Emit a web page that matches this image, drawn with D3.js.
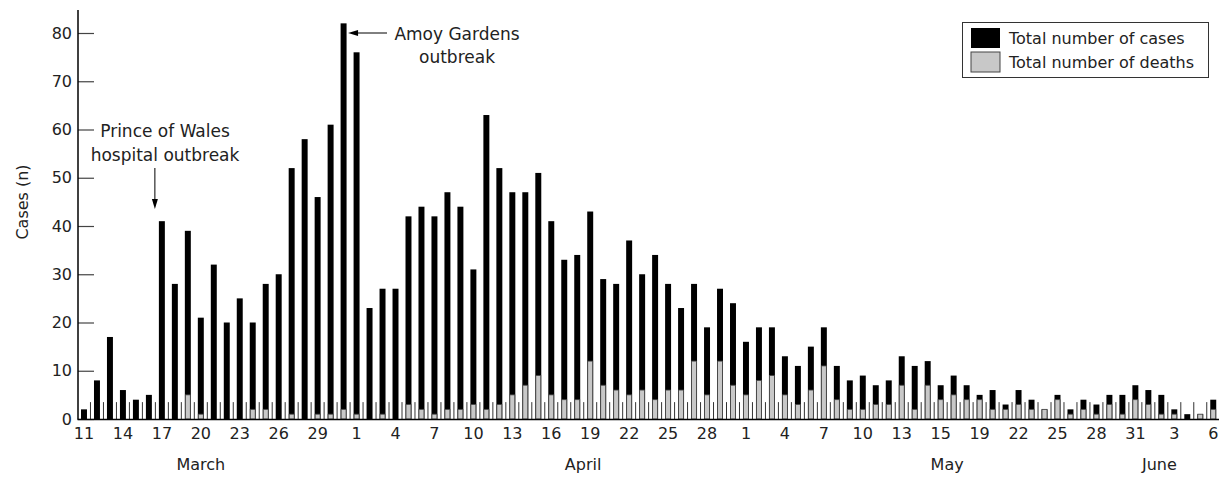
<!DOCTYPE html>
<html>
<head>
<meta charset="utf-8">
<script src="https://cdn.jsdelivr.net/npm/d3@7"></script>
<style>
  html, body { margin: 0; padding: 0; background: #fff; }
  svg { display: block; font-family: "DejaVu Sans", sans-serif; }
</style>
</head>
<body>
<svg id="chart" width="1222" height="477"></svg>
<script>
// ---- data ----
const dates = [
  "Mar 11","Mar 12","Mar 13","Mar 14","Mar 15","Mar 16","Mar 17","Mar 18","Mar 19","Mar 20","Mar 21",
  "Mar 22","Mar 23","Mar 24","Mar 25","Mar 26","Mar 27","Mar 28","Mar 29","Mar 30","Mar 31",
  "Apr 1","Apr 2","Apr 3","Apr 4","Apr 5","Apr 6","Apr 7","Apr 8","Apr 9","Apr 10",
  "Apr 11","Apr 12","Apr 13","Apr 14","Apr 15","Apr 16","Apr 17","Apr 18","Apr 19","Apr 20",
  "Apr 21","Apr 22","Apr 23","Apr 24","Apr 25","Apr 26","Apr 27","Apr 28","Apr 29","Apr 30",
  "May 1","May 2","May 3","May 4","May 5","May 6","May 7","May 8","May 9","May 10",
  "May 11","May 12","May 13","May 14","May 15","May 16","May 17","May 18","May 19","May 20",
  "May 21","May 22","May 23","May 24","May 25","May 26","May 27","May 28","May 29","May 30","May 31",
  "Jun 1","Jun 2","Jun 3","Jun 4","Jun 5","Jun 6"
];
const cases = [
  2,8,17,6,4,5,41,28,39,21,32,20,25,20,28,30,52,58,46,61,82,
  76,23,27,27,42,44,42,47,44,31,63,52,47,47,51,41,33,34,43,29,28,37,30,34,28,23,28,19,27,24,
  16,19,19,13,11,15,19,11,8,9,7,8,13,11,12,7,9,7,5,6,3,6,4,2,5,2,4,3,5,5,7,
  6,5,2,1,1,4
];
const deaths = [
  0,0,0,0,0,0,0,0,5,1,0,0,0,2,2,0,1,0,1,1,2,
  1,0,1,0,3,2,1,2,2,3,2,3,5,7,9,5,4,4,12,7,6,5,6,4,6,6,12,5,12,7,
  5,8,9,5,3,6,11,4,2,2,3,3,7,2,7,4,5,4,4,2,2,3,2,2,4,1,2,1,3,1,4,
  3,1,1,0,1,2
];
const xTickDates  = ["Mar 11","Mar 14","Mar 17","Mar 20","Mar 23","Mar 26","Mar 29","Apr 1","Apr 4","Apr 7","Apr 10","Apr 13","Apr 16","Apr 19","Apr 22","Apr 25","Apr 28","May 1","May 4","May 7","May 10","May 13","May 16","May 19","May 22","May 25","May 28","May 31","Jun 3","Jun 6"];
const xTickLabels = ["11","14","17","20","23","26","29","1","4","7","10","13","16","19","22","25","28","1","4","7","10","13","15","19","22","25","28","31","3","6"];
const yTicks = [0,10,20,30,40,50,60,70,80];
const monthNames = ["March","April","May","June"];
const monthAnchorDates = ["Mar 20","Apr 18","May 16","Jun 2"];
const seriesNames = ["Total number of cases","Total number of deaths"];
const seriesColors = ["#000000","#c8c8c8"];

// ---- layout ----
const FONT = 16;
const ANN_FONT = 17;
const FAMILY = "'DejaVu Sans', sans-serif";
const monthShift = [0, 0.45, 0.5, -0.15]; // in day steps
const svg = d3.select("#chart");
const x0 = 77.5, step = 12.98;
const x = d3.scaleBand().domain(dates).range([x0, x0 + step*dates.length])
  .paddingInner(0.54).paddingOuter(0.27);
const y = d3.scaleLinear().domain([0, 80]).range([419, 33]);
const cx = d => x(d) + x.bandwidth()/2;

// y axis
const yAxis = svg.append("g").attr("transform", `translate(78,0)`)
  .call(d3.axisLeft(y).tickValues(yTicks).tickSize(-16).tickPadding(6).tickSizeOuter(0));
yAxis.select(".domain").remove();
yAxis.selectAll(".tick line").attr("stroke", "#444").attr("stroke-width", 1.2);
yAxis.selectAll(".tick text").attr("font-size", FONT).attr("fill", "#222").attr("font-family", FAMILY);
svg.append("line").attr("x1", 78).attr("x2", 78).attr("y1", 10).attr("y2", 419.5)
  .attr("stroke", "#000").attr("stroke-width", 1.5);

// day separator ticks
const sepTicks = d3.range(1, dates.length);
svg.append("g").selectAll("line").data(sepTicks).join("line")
  .attr("x1", i => x0 + step*i).attr("x2", i => x0 + step*i)
  .attr("y1", y(0)).attr("y2", y(3.5))
  .attr("stroke", "#333").attr("stroke-width", 1);

// bars
const data = dates.map((d, i) => ({date: d, c: cases[i], dth: deaths[i]}));
svg.append("g").selectAll("rect").data(data).join("rect")
  .attr("x", d => x(d.date)).attr("width", x.bandwidth())
  .attr("y", d => y(d.c)).attr("height", d => y(0) - y(d.c))
  .attr("fill", seriesColors[0]);
svg.append("g").selectAll("rect").data(data.filter(d => d.dth > 0)).join("rect")
  .attr("x", d => x(d.date) + 0.5).attr("width", x.bandwidth() - 1)
  .attr("y", d => y(d.dth)).attr("height", d => y(0) - y(d.dth))
  .attr("fill", seriesColors[1]).attr("stroke", "#444").attr("stroke-width", 0.8);

// x axis
const xAxis = svg.append("g").attr("transform", `translate(0,419)`)
  .call(d3.axisBottom(x).tickValues(xTickDates)
    .tickFormat(d => xTickLabels[xTickDates.indexOf(d)]).tickSize(0).tickPadding(9).tickSizeOuter(0));
xAxis.select(".domain").remove();
xAxis.selectAll(".tick text").attr("font-size", FONT).attr("fill", "#222").attr("font-family", FAMILY);
svg.append("line").attr("x1", 77.5).attr("x2", 1219).attr("y1", 419.5).attr("y2", 419.5)
  .attr("stroke", "#000").attr("stroke-width", 1.5);

// month labels
svg.append("g").selectAll("text").data(monthNames).join("text")
  .attr("x", (m, i) => cx(monthAnchorDates[i]) + monthShift[i]*step)
  .attr("y", 470).attr("text-anchor", "middle").attr("font-size", FONT).attr("fill", "#222")
  .text(m => m);

// y axis title
svg.append("text").attr("transform", "translate(28,202) rotate(-90)")
  .attr("text-anchor", "middle").attr("font-size", FONT).attr("fill", "#222").text("Cases (n)");

// annotations
const ann = svg.append("g").attr("font-size", ANN_FONT).attr("fill", "#222").attr("text-anchor", "middle");
ann.append("text").attr("x", 165).attr("y", 137).text("Prince of Wales");
ann.append("text").attr("x", 165).attr("y", 161).text("hospital outbreak");
const pwX = cx("Mar 16") + 6;
svg.append("line").attr("x1", pwX).attr("x2", pwX).attr("y1", 168).attr("y2", 200)
  .attr("stroke", "#000").attr("stroke-width", 1);
svg.append("path").attr("d", `M${pwX-3},199 L${pwX+3},199 L${pwX},209 Z`).attr("fill", "#000");

ann.append("text").attr("x", 457).attr("y", 40).text("Amoy Gardens");
ann.append("text").attr("x", 457).attr("y", 63).text("outbreak");
const agX = x("Mar 31") + x.bandwidth() + 1.5;
const agY = y(80);
svg.append("line").attr("x1", 387).attr("x2", agX + 8).attr("y1", agY).attr("y2", agY)
  .attr("stroke", "#000").attr("stroke-width", 1);
svg.append("path").attr("d", `M${agX},${agY} L${agX+10},${agY-3} L${agX+10},${agY+3} Z`).attr("fill", "#000");

// legend
const lg = svg.append("g");
lg.append("rect").attr("x", 962.5).attr("y", 22.5).attr("width", 246).attr("height", 55)
  .attr("fill", "#fff").attr("stroke", "#333").attr("stroke-width", 1);
seriesNames.forEach((n, i) => {
  lg.append("rect").attr("x", 971).attr("y", 28 + i*24).attr("width", 29).attr("height", 20)
    .attr("fill", seriesColors[i]).attr("stroke", i ? "#444" : "none").attr("stroke-width", 1);
  lg.append("text").attr("x", 1009).attr("y", 44 + i*24).attr("font-size", FONT).attr("fill", "#222").text(n);
});
</script>
</body>
</html>
